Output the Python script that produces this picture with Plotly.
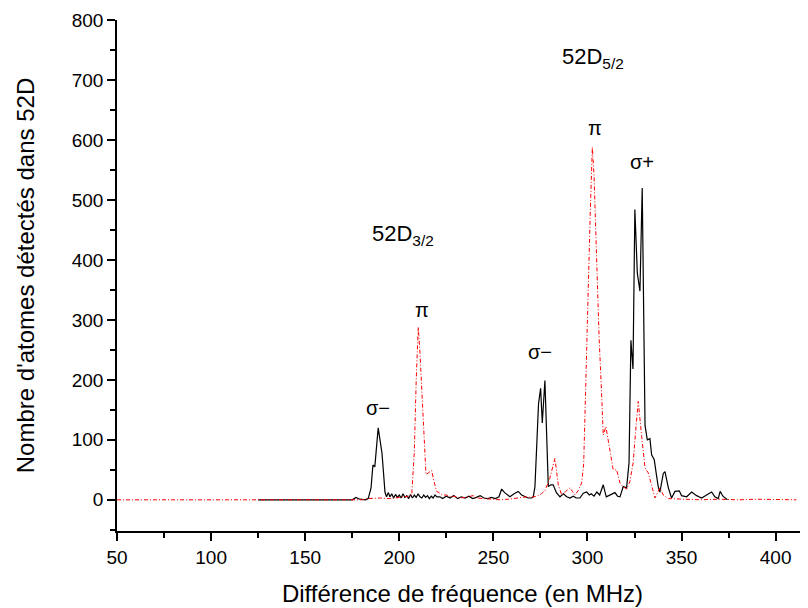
import plotly.graph_objects as go

# black solid trace (sigma transitions)
x_black = [125, 150, 170, 175, 177, 179, 182, 183.5, 185, 186, 187, 188, 188.8, 190, 190.8, 191.5,
           192.4, 193.2, 194.2, 195, 196, 197, 198, 199, 200, 201, 202, 203, 204, 205, 206, 207,
           208, 209, 210, 211, 212, 213, 214, 215, 216, 217, 218, 219, 220, 221.6, 223, 225, 227,
           229, 231, 233, 235, 237, 239, 241, 243, 245, 247, 249, 251, 253, 254.4, 256, 258.8,
           261, 263.2, 265, 266.8, 268.5, 270.3, 271.2, 272.1, 273, 274, 275.1, 276, 277.4, 278.3,
           279.2, 280.5, 281.8, 283.5, 285.4, 287.2, 289, 290.7, 292.5, 294, 296, 297.8, 299.6,
           301, 302, 303.5, 305, 306.5, 308.4, 310, 312, 314.6, 316, 317.3, 319, 320.8, 322.1,
           323.1, 324.2, 325.2, 326.5, 327.9, 329.1, 330.6, 331.8, 333.2, 334.1, 335.5, 336.5,
           337.6, 338.5, 340.3, 341.2, 343, 344.7, 346.5, 348.8, 350, 352.7, 355.4, 358, 360.7,
           363.3, 366, 367.7, 369.5, 370.5, 372, 374.4]
y_black = [0, 0, 0, 0, 4, 1, 0, 2, 20, 58, 55, 95, 120, 95, 78, 50,
           13, 5, 12, 5, 10, 3, 9, 4, 8, 3, 10, 4, 7, 2, 9, 3,
           8, 4, 10, 5, 3, 8, 4, 7, 2, 6, 3, 8, 5, 5, 2, 6, 3,
           7, 2, 5, 3, 6, 2, 4, 7, 3, 2, 4, 2, 5, 18, 12, 5,
           10, 14, 8, 5, 3, 3, 5, 22, 100, 160, 186, 128, 199, 110,
           22, 25, 25, 12, 5, 10, 5, 3, 6, 3, 3, 11, 13,
           8, 10, 6, 13, 8, 25, 5, 8, 12, 6, 5, 22, 20, 62,
           266, 218, 484, 378, 348, 520, 124, 100, 102, 75, 67, 45,
           22, 13, 44, 47, 20, 3, 14, 15, 7, 5, 13, 7, 3,
           8, 13, 5, 2, 14, 6, 0]

# red dash-dot trace (pi transitions)
x_red = [50, 100, 150, 180, 183, 190, 195, 200, 203, 205, 206.6, 208, 209, 210.1, 211, 212, 213,
         214.2, 215.5, 217.2, 218.5, 219.9, 221.6, 223, 225.2, 227, 229, 232, 235, 237, 239.3,
         241, 245, 249.8, 253.5, 258, 262.4, 267.8, 270, 273, 275.5, 277.4, 280, 282.7, 284.5,
         286.3, 288.5, 290.7, 292, 293.4, 295, 296.9, 298, 298.7, 300, 301.5, 302.6, 303.5,
         304.9, 306.2, 307.5, 308.4, 309.8, 311, 312.5, 313.7, 315.5, 317.3, 319, 320.8, 322.5,
         324.3, 325.5, 327, 328.8, 330.6, 332.3, 334, 335.9, 338.5, 340.3, 343, 350, 360, 370,
         380, 390, 400, 411]
y_red = [0, 0, 0, 0, 2, 3, 2, 4, 5, 6, 8, 80, 200, 288, 245, 180, 100,
         42, 45, 49, 30, 14, 11, 8, 8, 5, 6, 3, 4, 5, 7,
         3, 2, 1, 0, 1, 3, 5, 4, 6, 10, 15, 36, 69, 25,
         8, 14, 20, 14, 8, 15, 28, 60, 133, 300, 480, 588, 540,
         378, 270, 178, 108, 122, 100, 70, 50, 50, 28, 22, 18, 30,
         62, 110, 164, 106, 53, 45, 25, 3, 20, 8, 2, 1, 0, 1,
         0, 1, 0, 0]

# labels placed in data coordinates
label_text = ["52D<sub>3/2</sub>", "52D<sub>5/2</sub>", "σ−", "π", "σ−", "π", "σ+"]
label_x = [202, 303, 188.7, 212, 275, 304, 329]
label_y = [442, 737, 153, 317, 247, 620, 563]
label_size = [22, 22, 20, 20, 20, 20, 20]

fig = go.Figure()
fig.add_trace(go.Scatter(x=x_black, y=y_black, mode="lines",
                         line=dict(color="black", width=1.2)))
fig.add_trace(go.Scatter(x=x_red, y=y_red, mode="lines",
                         line=dict(color="red", width=1, dash="4px,2px,1px,2px")))

for t, xx, yy, s in zip(label_text, label_x, label_y, label_size):
    fig.add_annotation(x=xx, y=yy, text=t, showarrow=False,
                       font=dict(family="Liberation Sans", size=s, color="black"))

axis_common = dict(showline=True, linecolor="black", linewidth=1.5, ticks="outside",
                   ticklen=8, tickwidth=1.5, tickcolor="black", showgrid=False, zeroline=False,
                   automargin=False,
                   tickfont=dict(family="Liberation Sans", size=19, color="black"))

# the page body adds an 8px offset, margins account for it
fig.update_layout(
    width=808, height=608,
    margin=dict(l=109, r=8, t=12, b=85),
    paper_bgcolor="white", plot_bgcolor="white",
    showlegend=False,
    xaxis=dict(range=[50, 417.2], dtick=50, tick0=50,
               minor=dict(ticks="outside", dtick=25, ticklen=5, tickcolor="black"),
               title=dict(text="Différence de fréquence (en MHz)", standoff=19,
                          font=dict(family="Liberation Sans", size=24, color="black")),
               **axis_common),
    yaxis=dict(range=[-52, 800], tickvals=[0, 100, 200, 300, 400, 500, 600, 700, 800],
               minor=dict(ticks="outside", tickvals=[-50, 50, 150, 250, 350, 450, 550, 650, 750],
                          ticklen=5, tickcolor="black"),
               title=dict(text="Nombre d'atomes détectés dans 52D", standoff=30,
                          font=dict(family="Liberation Sans", size=24, color="black")),
               **axis_common),
)

fig.write_html("out.html")
